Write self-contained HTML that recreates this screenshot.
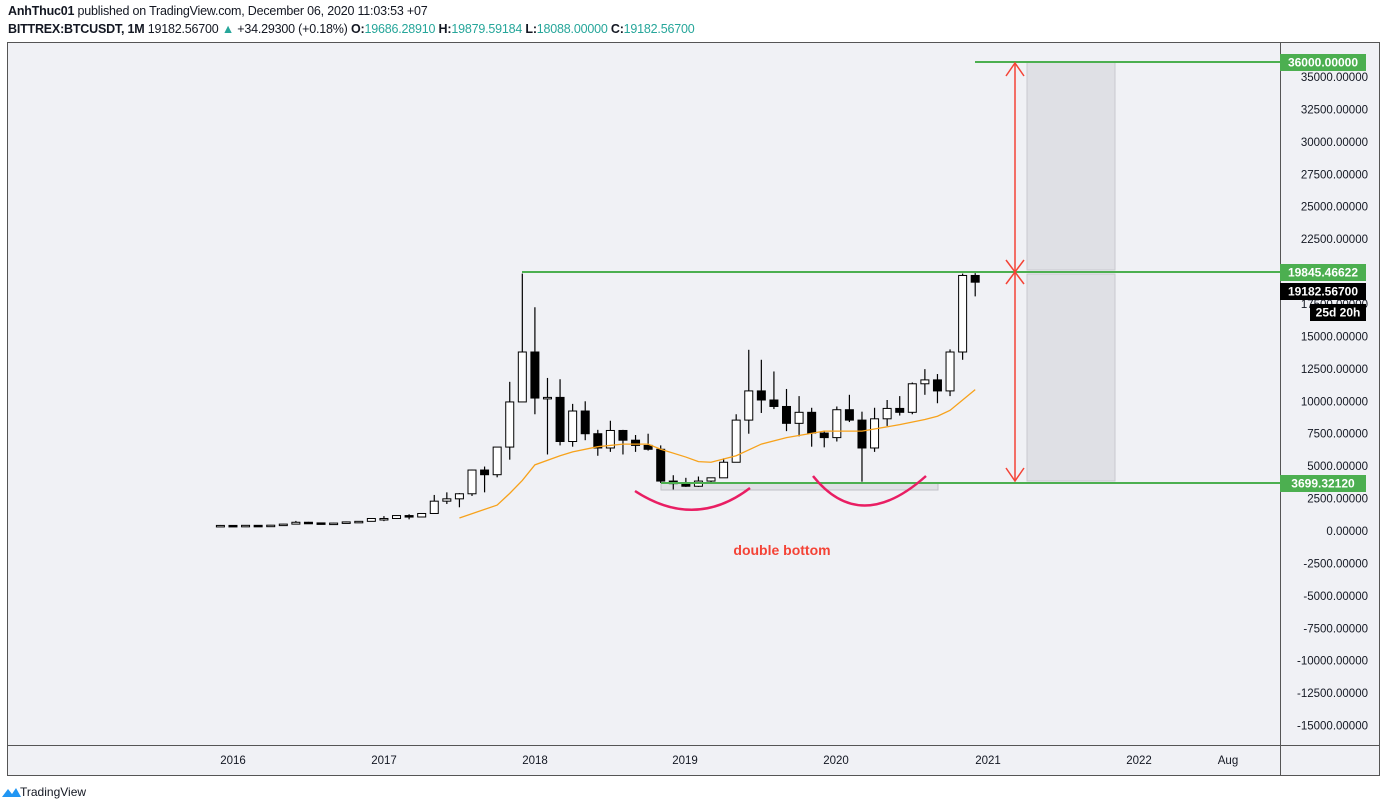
<!DOCTYPE html>
<html><head><meta charset="utf-8"><style>
body{margin:0;width:1380px;height:810px;background:#fff;font-family:"Liberation Sans",sans-serif;overflow:hidden;position:relative}
.h{position:absolute;left:8px;font-size:12.5px;color:#131722;white-space:nowrap;letter-spacing:-0.2px}
.h b{font-weight:bold}.g{color:#26a69a}
</style></head><body>
<div class="h" style="top:4px"><b>AnhThuc01</b> published on TradingView.com, December 06, 2020 11:03:53 +07</div>
<div class="h" style="top:22px"><b>BITTREX:BTCUSDT, 1M</b> 19182.56700 <span class="g">▲</span> +34.29300 (+0.18%) <b>O:</b><span class="g">19686.28910</span> <b>H:</b><span class="g">19879.59184</span> <b>L:</b><span class="g">18088.00000</span> <b>C:</b><span class="g">19182.56700</span></div>
<svg id="s" width="1380" height="810" style="position:absolute;left:0;top:0" xmlns="http://www.w3.org/2000/svg" font-family="Liberation Sans, sans-serif">
<rect x="7.5" y="42.5" width="1372" height="733" fill="#f0f1f5" stroke="#555" stroke-width="1"/>
<line x1="1280.5" y1="42" x2="1280.5" y2="776" stroke="#555"/>
<line x1="7" y1="745.5" x2="1380" y2="745.5" stroke="#555"/>
<g id="c"></g>
<text x="20" y="796" font-size="12" fill="#131722">TradingView</text>
<path d="M3 797 L9 789 L13 794 L17 788 L22 797 Z" fill="#2196f3" transform="translate(-1,0)"/>
</svg>
<script>
const g=document.getElementById('c');let h='';
const Y=p=>531-p*0.012971;
// grey boxes
h+='<rect x="1027" y="62" width="88" height="208" fill="#dfe0e5" stroke="#c8c9cf"/>';
h+='<rect x="1027" y="274" width="88" height="207" fill="#dfe0e5" stroke="#c8c9cf"/>';
h+='<rect x="661" y="483" width="277" height="7" fill="#dfe0e5" stroke="#c0c1c7"/>';
// axis labels
for(let p=35000;p>=-15000;p-=2500){if(p==20000)continue;h+=`<text x="1368" y="${Y(p)+4}" font-size="11.5" text-anchor="end" fill="#131722">${p.toFixed(5)}</text>`;}
[[2016,233],[2017,384],[2018,535],[2019,685],[2020,836],[2021,988],[2022,1139],['Aug',1228]].forEach(([t,x])=>h+=`<text x="${x}" y="764" font-size="11.5" text-anchor="middle" fill="#131722">${t}</text>`);
const d=[[378,465,350,430],[430,460,355,369],[369,446,366,437],[437,439,396,416],[416,467,414,448],[448,548,443,531],[531,778,525,673],[673,704,604,624],[624,627,532,575],[575,628,572,610],[610,736,606,700],[700,755,688,745],[745,975,744,964],
[964,1150,760,965],[965,1210,940,1190],[1190,1290,900,1080],[1080,1350,1060,1350],[1350,2780,1350,2300],[2300,2980,2080,2480],[2480,2920,1830,2870],[2870,4740,2700,4700],[4700,4970,2980,4340],[4340,6470,4140,6470],[6470,11500,5500,9950],[9950,19845,10000,13800],
[13800,17250,9000,10250],[10250,11800,5900,10300],[10300,11700,6600,6900],[6900,9800,6500,9250],[9250,10000,7000,7500],[7500,7800,5800,6400],[6400,8500,6100,7750],[7750,7800,5900,7000],[7000,7400,6100,6600],[6600,7500,6200,6300],[6300,6600,3700,3850],[3850,4300,3200,3650],
[3650,4100,3400,3450],[3450,4200,3400,3850],[3850,4100,3700,4100],[4100,5600,4100,5300],[5300,9000,5300,8550],[8550,13970,7500,10800],[10800,13200,9100,10100],[10100,12300,9400,9600],[9600,10950,7700,8300],[8300,10400,7300,9150],[9150,9500,6500,7550],[7550,7750,6450,7200],
[7200,9600,6900,9350],[9350,10500,8400,8550],[8550,9200,3800,6400],[6400,9500,6100,8650],[8650,10100,8100,9450],[9450,10400,8900,9150],[9150,11450,9000,11350],[11350,12480,10500,11650],[11650,12100,9850,10800],[10800,14000,10400,13800],[13800,19845,13200,19700],[19700,19880,18088,19182]];
d.forEach((c,i)=>{const x=220.4+i*12.58;const[o,hh,l,cl]=c;const up=cl>=o;const t=Y(Math.max(o,cl)),b=Y(Math.min(o,cl));
h+=`<line x1="${x}" y1="${Y(hh)}" x2="${x}" y2="${Y(l)}" stroke="#000" stroke-width="1.2"/>`;
h+=`<rect x="${x-4}" y="${t}" width="8" height="${Math.max(b-t,1.5)}" fill="${up?'#fff':'#000'}" stroke="#000" stroke-width="1"/>`;});
// MA
const ma=[[19,1000],[22,2000],[23,2900],[24,3900],[25,5100],[27,5800],[28,6100],[30,6500],[32,6700],[34,6700],[35,6300],[37,5700],[38,5350],[39,5300],[41,5800],[43,6700],[45,7200],[48,7700],[51,7700],[54,8200],[56,8600],[57,8850],[58,9300],[59,10100],[60,10900]];
h+=`<polyline fill="none" stroke="#f7a21b" stroke-width="1.3" points="${ma.map(([i,p])=>(220.4+i*12.58)+','+Y(p)).join(' ')}"/>`;
// green lines
h+='<line x1="522" y1="272" x2="1280" y2="272" stroke="#4caf50" stroke-width="2"/>';
h+='<line x1="661" y1="483" x2="1280" y2="483" stroke="#4caf50" stroke-width="2"/>';
h+='<line x1="975" y1="62" x2="1280" y2="62" stroke="#4caf50" stroke-width="2"/>';
// red arrow
h+='<g stroke="#f44336" stroke-width="1.5" fill="none"><line x1="1015" y1="63" x2="1015" y2="481"/><polyline points="1006,76 1015,63 1024,76"/><polyline points="1006,468 1015,481 1024,468"/><polyline points="1006,260 1015,272 1024,260"/><polyline points="1006,284 1015,272 1024,284"/></g>';
// pink arcs
h+='<path d="M635 491 Q695 530 750 488" fill="none" stroke="#e91e63" stroke-width="2.5"/>';
h+='<path d="M813 476 Q860 535 926 476" fill="none" stroke="#e91e63" stroke-width="2.5"/>';
h+='<text x="782" y="555" font-size="14" font-weight="bold" fill="#f44336" text-anchor="middle">double bottom</text>';
// badges
const bd=(y,t,c,x=1280,w=86)=>{h+=`<rect x="${x}" y="${y-8}" width="${w}" height="17" fill="${c}"/><text x="${x+w/2}" y="${y+4.5}" font-size="12" font-weight="bold" fill="#fff" text-anchor="middle">${t}</text>`;};
bd(62,'36000.00000','#4caf50');bd(272,'19845.46622','#4caf50');bd(291,'19182.56700','#000');bd(312,'25d 20h','#000',1310,56);bd(483,'3699.32120','#4caf50');
g.innerHTML=h;
</script>
</body></html>
